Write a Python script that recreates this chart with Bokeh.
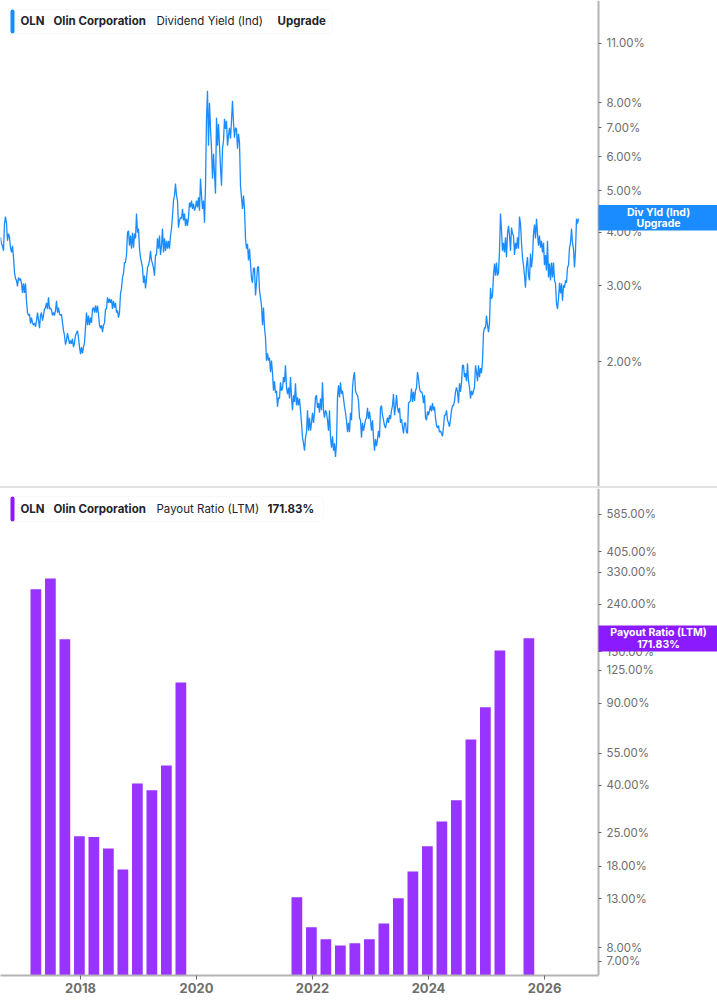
# OLN dividend yield and payout ratio, two stacked log panels
import numpy as np

from bokeh.plotting import figure
from bokeh.models import BoxAnnotation, ColumnDataSource, FixedTicker, Label, PrintfTickFormatter, Range1d, Spacer
from bokeh.layouts import column
from bokeh.embed import file_html
from bokeh.resources import INLINE

# dividend yield in %, one reading about every 6 days from late 2016
yield_values = [
    3.89, 3.76, 3.72, 3.62, 4.19, 4.35, 4.19, 3.82, 3.97, 3.89, 3.68, 3.59, 3.72, 3.50, 3.22, 3.12, 3.09, 2.99, 3.14, 3.09,
    3.12, 3.04, 2.89, 3.04, 2.89, 3.04, 2.77, 2.60, 2.56, 2.58, 2.45, 2.53, 2.46, 2.43, 2.46, 2.41, 2.49, 2.60, 2.50, 2.39,
    2.56, 2.60, 2.49, 2.56, 2.65, 2.67, 2.74, 2.65, 2.82, 2.65, 2.67, 2.63, 2.56, 2.60, 2.56, 2.63, 2.77, 2.60, 2.67, 2.58,
    2.56, 2.58, 2.46, 2.36, 2.30, 2.19, 2.24, 2.33, 2.26, 2.20, 2.24, 2.20, 2.26, 2.16, 2.21, 2.30, 2.33, 2.36, 2.27, 2.16,
    2.08, 2.16, 2.09, 2.16, 2.21, 2.40, 2.60, 2.43, 2.56, 2.43, 2.53, 2.46, 2.65, 2.67, 2.60, 2.70, 2.60, 2.70, 2.58, 2.43,
    2.39, 2.43, 2.34, 2.43, 2.46, 2.65, 2.65, 2.82, 2.74, 2.80, 2.74, 2.79, 2.65, 2.77, 2.67, 2.74, 2.60, 2.63, 2.53, 2.60,
    2.88, 2.96, 3.14, 3.21, 3.40, 3.40, 3.54, 3.99, 4.03, 3.72, 3.93, 3.66, 3.99, 3.68, 3.97, 3.87, 4.42, 3.99, 4.08, 3.66,
    3.49, 3.40, 3.31, 3.05, 3.17, 2.96, 3.12, 3.31, 3.35, 3.44, 3.62, 3.44, 3.38, 3.30, 3.17, 3.54, 3.54, 3.87, 3.66, 3.93,
    3.54, 3.72, 4.08, 3.59, 3.87, 3.62, 3.82, 3.66, 3.82, 3.66, 3.93, 4.08, 4.37, 4.74, 4.87, 5.19, 4.87, 4.74, 4.10, 4.26,
    4.33, 4.30, 4.53, 4.26, 4.42, 4.14, 4.30, 4.14, 4.33, 4.69, 4.57, 4.74, 4.53, 4.66, 4.49, 4.57, 4.74, 4.57, 4.82, 4.49,
    5.33, 4.87, 4.53, 4.74, 4.21, 5.13, 7.35, 8.54, 6.36, 8.00, 6.96, 6.26, 5.33, 6.09, 5.47, 4.92, 7.39, 6.36, 7.15, 6.36,
    5.66, 5.13, 6.26, 6.53, 7.35, 6.96, 7.27, 6.36, 6.71, 7.00, 6.60, 7.27, 8.09, 7.19, 6.64, 7.00, 6.96, 6.26, 6.78, 6.46,
    5.13, 4.82, 4.53, 4.87, 4.53, 3.87, 3.66, 3.76, 3.44, 3.66, 3.38, 3.12, 3.05, 3.30, 3.30, 2.85, 3.05, 3.31, 3.33, 2.93,
    2.82, 2.70, 2.43, 2.67, 2.40, 2.27, 2.01, 2.09, 2.01, 2.04, 1.89, 2.01, 1.88, 1.71, 1.80, 1.69, 1.71, 1.57, 1.65, 1.64,
    1.79, 1.71, 1.73, 1.84, 1.79, 1.96, 1.74, 1.68, 1.74, 1.64, 1.84, 1.65, 1.54, 1.67, 1.61, 1.78, 1.58, 1.65, 1.58, 1.64,
    1.54, 1.44, 1.33, 1.29, 1.24, 1.33, 1.37, 1.54, 1.38, 1.48, 1.38, 1.44, 1.52, 1.44, 1.52, 1.65, 1.67, 1.56, 1.60, 1.52,
    1.64, 1.54, 1.79, 1.54, 1.48, 1.54, 1.52, 1.46, 1.38, 1.54, 1.33, 1.26, 1.34, 1.24, 1.29, 1.20, 1.29, 1.65, 1.76, 1.65,
    1.79, 1.68, 1.71, 1.64, 1.57, 1.52, 1.46, 1.37, 1.44, 1.37, 1.52, 1.46, 1.74, 1.84, 1.89, 1.71, 1.68, 1.67, 1.62, 1.48,
    1.46, 1.33, 1.44, 1.38, 1.42, 1.46, 1.48, 1.56, 1.47, 1.53, 1.46, 1.38, 1.46, 1.33, 1.24, 1.32, 1.27, 1.32, 1.38, 1.33,
    1.56, 1.58, 1.50, 1.46, 1.42, 1.40, 1.44, 1.48, 1.44, 1.50, 1.47, 1.54, 1.58, 1.68, 1.50, 1.57, 1.67, 1.56, 1.52, 1.56,
    1.44, 1.47, 1.41, 1.36, 1.44, 1.44, 1.37, 1.36, 1.60, 1.61, 1.62, 1.73, 1.61, 1.70, 1.62, 1.71, 1.74, 1.89, 1.83, 1.73,
    1.70, 1.70, 1.68, 1.60, 1.67, 1.48, 1.46, 1.53, 1.50, 1.54, 1.58, 1.53, 1.60, 1.54, 1.57, 1.48, 1.42, 1.40, 1.42, 1.37,
    1.38, 1.36, 1.34, 1.41, 1.50, 1.50, 1.54, 1.46, 1.44, 1.41, 1.47, 1.54, 1.58, 1.58, 1.62, 1.70, 1.74, 1.70, 1.60, 1.78,
    1.70, 1.79, 1.96, 1.96, 1.84, 1.88, 1.80, 1.98, 1.80, 1.74, 1.64, 1.71, 1.67, 1.71, 1.74, 1.96, 1.89, 1.80, 1.96, 1.84,
    1.93, 1.88, 2.01, 2.33, 2.40, 2.39, 2.56, 2.43, 2.34, 2.46, 2.97, 2.80, 2.85, 3.17, 3.38, 3.17, 3.40, 3.17, 3.22, 3.62,
    4.42, 4.03, 3.62, 3.78, 3.59, 3.89, 3.50, 3.97, 4.14, 3.93, 3.62, 4.10, 3.97, 3.93, 3.54, 3.78, 3.66, 3.89, 3.66, 4.35,
    4.19, 3.78, 3.49, 3.35, 3.17, 2.97, 3.35, 3.50, 3.17, 3.09, 3.57, 3.31, 3.50, 3.97, 4.17, 3.87, 4.30, 3.97, 3.72, 3.93,
    3.68, 3.82, 3.59, 3.78, 3.35, 3.54, 3.26, 3.82, 3.14, 3.38, 3.09, 3.40, 3.14, 3.40, 3.09, 3.04, 2.73, 2.65, 2.80, 3.05,
    2.88, 3.04, 2.77, 3.01, 2.97, 3.09, 3.05, 3.31, 3.35, 3.68, 3.78, 4.08, 3.78, 3.66, 3.31, 3.62, 4.30, 4.19, 4.30,
]
yield_start = 2016.62
yield_step = 1 / 58

# payout ratio in %, quarter ends
payout_dates = [
    2017.23, 2017.48, 2017.73, 2017.98, 2018.23, 2018.48, 2018.73, 2018.98, 2019.23, 2019.48, 2019.73,
    2021.73, 2021.98, 2022.23, 2022.48, 2022.73, 2022.98, 2023.23, 2023.48, 2023.73, 2023.98, 2024.23,
    2024.48, 2024.73, 2024.98, 2025.23, 2025.73,
]
payout_values = [
    278.5, 310, 170, 24.2, 24.0, 21.4, 17.4, 40.8, 38.1, 48.7, 110.9,
    13.2, 9.81, 8.71, 8.2, 8.38, 8.71, 10.2, 13.07, 17.07, 21.9, 28.0,
    34.5, 63, 86.6, 152, 171.83,
]

yield_ticks = [2, 3, 4, 5, 6, 7, 8, 11]
payout_ticks = [7, 8, 13, 18, 25, 40, 55, 90, 125, 150, 240, 330, 405, 585]
year_ticks = [2018, 2020, 2022, 2024, 2026]

BLUE = "#1a8cff"
PURPLE = "#8c1aff"
BAR = "#9933ff"
INK = "#22242a"
GREY = "#6e6e6e"
AXIS = "#b3b3b3"
FONT = "Inter"

WIDTH = 717
PANEL_W = 598

# the frame runs over the whole width, the axis stands at x_axis inside it
x_low = 2016.62
x_axis = x_low + PANEL_W / 58
x_high = x_low + WIDTH / 58


def style_axes(p, ticks):
    p.xgrid.visible = False
    p.ygrid.visible = False
    p.outline_line_color = None
    ax = p.yaxis[0]
    ax.fixed_location = x_axis
    ax.ticker = FixedTicker(ticks=ticks)
    ax.formatter = PrintfTickFormatter(format="%.2f%%")
    ax.axis_line_color = AXIS
    ax.axis_line_width = 2
    ax.major_tick_line_color = "#666666"
    ax.major_tick_in = 0
    ax.major_tick_out = 3
    ax.minor_tick_line_color = None
    ax.major_label_text_font = FONT
    ax.major_label_text_font_size = "11.5px"
    ax.major_label_text_color = GREY
    ax.major_label_standoff = 5


def tag_text(p, x, y, text, color=INK, style="bold", align="left", size="11.5px"):
    # y is pixels down from the panel top
    p.add_layout(Label(x=x, y=p.frame_height - y, x_units="screen", y_units="screen", text=text,
                       text_font=FONT, text_font_size=size, text_font_style=style, text_color=color,
                       text_align=align, text_baseline="middle"))


def screen_box(p, left, right, y0, y1, **kw):
    p.add_layout(BoxAnnotation(left=left, right=right, top=p.frame_height - y0, bottom=p.frame_height - y1,
                               left_units="screen", right_units="screen", top_units="screen", bottom_units="screen",
                               fill_alpha=1, **kw))


def header(p, y0, y1, width, color, series, reading):
    screen_box(p, 10, width, y0, y1, fill_color="white", line_color="#ececec", line_width=1, border_radius=4)
    screen_box(p, 10, 14, y0, y1, fill_color=color, line_color=None, border_radius=2)
    mid = (y0 + y1) / 2 - 0.5
    tag_text(p, 20, mid, "OLN")
    tag_text(p, 53, mid, "Olin Corporation")
    tag_text(p, 156, mid, series, style="normal")
    tag_text(p, 277 if reading == "Upgrade" else 267, mid, reading)


def side_tag(p, y0, y1, color, line1, line2):
    screen_box(p, PANEL_W, WIDTH, y0, y1, fill_color=color, line_color=None)
    tag_text(p, 658, y0 + 7, line1, color="white", align="center", size="10.5px")
    tag_text(p, 658, y0 + 18.5, line2, color="white", align="center", size="10.5px")


top = figure(width=WIDTH, height=486, frame_width=WIDTH, frame_height=486,
             y_axis_type="log", y_axis_location="right", x_range=Range1d(x_low, x_high),
             y_range=Range1d(1.0236, 13.85), output_backend="svg", toolbar_location=None,
             min_border_left=0, min_border_right=0, min_border_top=0, min_border_bottom=0)
top.xaxis.visible = False
style_axes(top, yield_ticks)
yield_dates = yield_start + np.arange(len(yield_values)) * yield_step
top.line(yield_dates, yield_values, line_color=BLUE, line_width=1.3)
header(top, 9, 33, 332, BLUE, "Dividend Yield (Ind)", "Upgrade")
side_tag(top, 204.5, 230, BLUE, "Div Yld (Ind)", "Upgrade")

separator = Spacer(width=WIDTH, height=2, styles={"background-color": "#e2e2e2"})

bottom = figure(width=WIDTH, height=509, frame_width=WIDTH, frame_height=487,
                y_axis_type="log", y_axis_location="right", x_range=Range1d(x_low, x_high),
                y_range=Range1d(6.09, 756), output_backend="svg", toolbar_location=None,
                min_border_left=0, min_border_right=0, min_border_top=0, min_border_bottom=22)
style_axes(bottom, payout_ticks)
xax = bottom.xaxis[0]
xax.bounds = (x_low, x_axis)
xax.ticker = FixedTicker(ticks=year_ticks)
xax.formatter = PrintfTickFormatter(format="%d")
xax.axis_line_color = AXIS
xax.axis_line_width = 2
xax.major_tick_line_color = "#666666"
xax.major_tick_in = 0
xax.major_tick_out = 4
xax.minor_tick_line_color = None
xax.major_label_text_font = FONT
xax.major_label_text_font_size = "13px"
xax.major_label_text_font_style = "bold"
xax.major_label_text_color = GREY
xax.major_label_standoff = 3

source = ColumnDataSource(dict(x=payout_dates, top=payout_values))
bottom.vbar(x="x", top="top", bottom=6.09, width=0.185, source=source, fill_color=BAR, line_color=None)
header(bottom, 8, 33, 323, PURPLE, "Payout Ratio (LTM)", "171.83%")
side_tag(bottom, 137, 163, PURPLE, "Payout Ratio (LTM)", "171.83%")

page = column(top, separator, bottom, spacing=0)

open("out.html", "w").write(file_html(page, INLINE))
